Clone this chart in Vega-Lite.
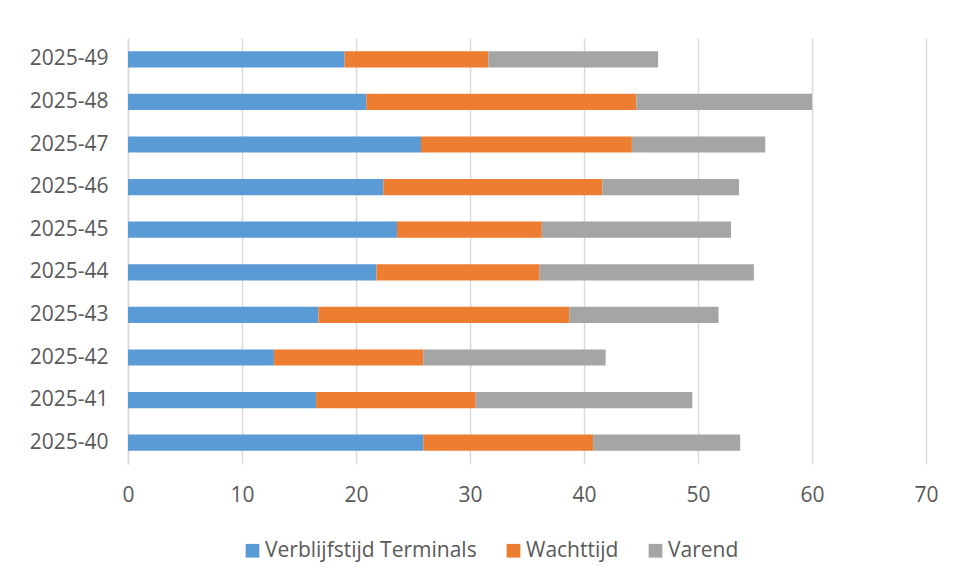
{
  "$schema": "https://vega.github.io/schema/vega-lite/v6.json",
  "width": 798,
  "height": 426,
  "autosize": {"type": "none"},
  "padding": {"left": 128, "top": 38, "right": 29, "bottom": 115},
  "background": "#ffffff",
  "data": {
    "values": [
      {"week": "2025-40", "soort": "Verblijfstijd Terminals", "volgorde": 1, "waarde": 25.9},
      {"week": "2025-40", "soort": "Wachttijd", "volgorde": 2, "waarde": 14.9},
      {"week": "2025-40", "soort": "Varend", "volgorde": 3, "waarde": 12.9},
      {"week": "2025-41", "soort": "Verblijfstijd Terminals", "volgorde": 1, "waarde": 16.5},
      {"week": "2025-41", "soort": "Wachttijd", "volgorde": 2, "waarde": 14.0},
      {"week": "2025-41", "soort": "Varend", "volgorde": 3, "waarde": 19.0},
      {"week": "2025-42", "soort": "Verblijfstijd Terminals", "volgorde": 1, "waarde": 12.8},
      {"week": "2025-42", "soort": "Wachttijd", "volgorde": 2, "waarde": 13.1},
      {"week": "2025-42", "soort": "Varend", "volgorde": 3, "waarde": 16.0},
      {"week": "2025-43", "soort": "Verblijfstijd Terminals", "volgorde": 1, "waarde": 16.7},
      {"week": "2025-43", "soort": "Wachttijd", "volgorde": 2, "waarde": 22.0},
      {"week": "2025-43", "soort": "Varend", "volgorde": 3, "waarde": 13.1},
      {"week": "2025-44", "soort": "Verblijfstijd Terminals", "volgorde": 1, "waarde": 21.8},
      {"week": "2025-44", "soort": "Wachttijd", "volgorde": 2, "waarde": 14.3},
      {"week": "2025-44", "soort": "Varend", "volgorde": 3, "waarde": 18.8},
      {"week": "2025-45", "soort": "Verblijfstijd Terminals", "volgorde": 1, "waarde": 23.6},
      {"week": "2025-45", "soort": "Wachttijd", "volgorde": 2, "waarde": 12.7},
      {"week": "2025-45", "soort": "Varend", "volgorde": 3, "waarde": 16.6},
      {"week": "2025-46", "soort": "Verblijfstijd Terminals", "volgorde": 1, "waarde": 22.4},
      {"week": "2025-46", "soort": "Wachttijd", "volgorde": 2, "waarde": 19.2},
      {"week": "2025-46", "soort": "Varend", "volgorde": 3, "waarde": 12.0},
      {"week": "2025-47", "soort": "Verblijfstijd Terminals", "volgorde": 1, "waarde": 25.7},
      {"week": "2025-47", "soort": "Wachttijd", "volgorde": 2, "waarde": 18.5},
      {"week": "2025-47", "soort": "Varend", "volgorde": 3, "waarde": 11.7},
      {"week": "2025-48", "soort": "Verblijfstijd Terminals", "volgorde": 1, "waarde": 20.9},
      {"week": "2025-48", "soort": "Wachttijd", "volgorde": 2, "waarde": 23.7},
      {"week": "2025-48", "soort": "Varend", "volgorde": 3, "waarde": 15.4},
      {"week": "2025-49", "soort": "Verblijfstijd Terminals", "volgorde": 1, "waarde": 19.0},
      {"week": "2025-49", "soort": "Wachttijd", "volgorde": 2, "waarde": 12.6},
      {"week": "2025-49", "soort": "Varend", "volgorde": 3, "waarde": 14.9}
    ]
  },
  "mark": {"type": "bar"},
  "encoding": {
    "y": {
      "field": "week",
      "type": "nominal",
      "sort": "descending",
      "scale": {"paddingInner": 0.62, "paddingOuter": 0.31},
      "axis": {
        "title": null,
        "ticks": false,
        "tickSize": 0,
        "labelPadding": 20,
        "labelFont": "Open Sans",
        "labelFontSize": 21,
        "labelColor": "#595959",
        "domainColor": "#D9D9D9",
        "domainWidth": 1.5,
        "grid": false
      }
    },
    "x": {
      "field": "waarde",
      "type": "quantitative",
      "stack": "zero",
      "scale": {"domain": [0, 70], "nice": false},
      "axis": {
        "title": null,
        "values": [0, 10, 20, 30, 40, 50, 60, 70],
        "ticks": false,
        "tickSize": 0,
        "domain": false,
        "labelPadding": 20,
        "labelFont": "Open Sans",
        "labelFontSize": 21,
        "labelColor": "#595959",
        "labelFlush": false,
        "grid": true,
        "gridColor": "#D9D9D9",
        "gridWidth": 1.5
      }
    },
    "color": {
      "field": "soort",
      "type": "nominal",
      "scale": {
        "domain": ["Verblijfstijd Terminals", "Wachttijd", "Varend"],
        "range": ["#5B9BD5", "#ED7D31", "#A5A5A5"]
      },
      "legend": {
        "title": null,
        "orient": "none",
        "direction": "horizontal",
        "legendX": 114,
        "legendY": 502,
        "symbolType": "square",
        "symbolSize": 188,
        "symbolStrokeWidth": 0,
        "symbolOpacity": 1,
        "labelFont": "Open Sans",
        "labelFontSize": 21,
        "labelLimit": 400,
        "labelColor": "#595959",
        "labelOffset": 2,
        "columnPadding": 26,
        "padding": 0
      }
    },
    "order": {"field": "volgorde", "type": "quantitative"}
  },
  "config": {
    "view": {"stroke": null}
  }
}
